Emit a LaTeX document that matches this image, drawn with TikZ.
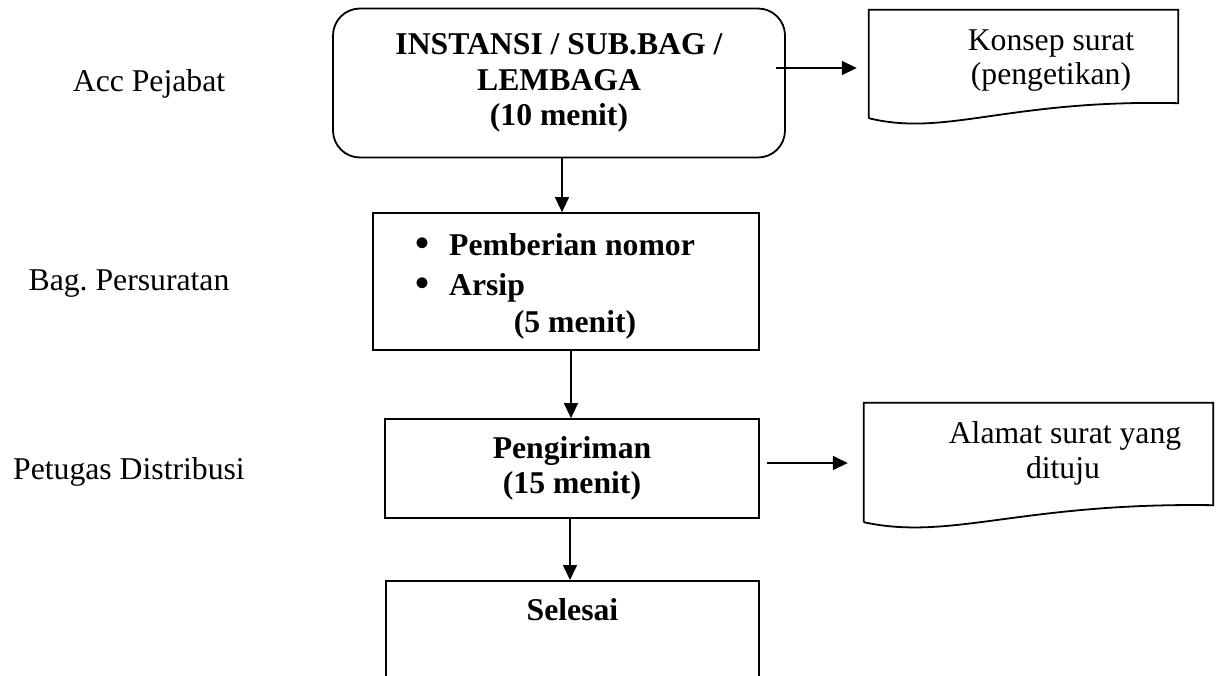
\documentclass[tikz,border=0pt]{standalone}
\usepackage{fontspec}
\setmainfont{Liberation Serif}
\usetikzlibrary{arrows.meta,calc}

\newcommand{\listdot}{\makebox[34pt][l]{\raisebox{-1pt}{\fontsize{40}{40}\selectfont\textbullet}}}

\begin{document}
\begin{tikzpicture}[x=1pt,y=-1pt,
  txt/.style={font=\fontsize{31.7}{35.5}\selectfont, inner sep=0pt},
  boldtxt/.style={txt, font=\fontsize{31.7}{35.5}\selectfont\bfseries},
  box/.style={draw, line width=1.8pt, boldtxt, align=center},
  docbox/.style={inner sep=0pt},
  docline/.style={draw, line width=1.8pt},
  arr/.style={line width=1.6pt, -{Triangle[length=15pt,width=14pt]}}
]
\useasboundingbox (0,0) rectangle (1216,675);

% lane labels
\node[txt, anchor=base] (lane1) at (149,91) {Acc Pejabat};
\node[txt, anchor=base] (lane2) at (129,290) {Bag.\ Persuratan};
\node[txt, anchor=base] (lane3) at (129,479) {Petugas Distribusi};

% process boxes
\node[box, rounded corners=27pt, minimum width=452, minimum height=149]
  (box1) at (559,83) {INSTANSI / SUB.BAG /\\ LEMBAGA\\ (10 menit)};

\node[box, minimum width=386, minimum height=137] (box2) at (566,281.5) {};
\node[boldtxt, anchor=base west] (item1) at (415,255)
  {\listdot Pemberian nomor};
\node[boldtxt, anchor=base west] (item2) at (415,295)
  {\listdot Arsip};
\node[boldtxt, anchor=base] (dur2) at (575,332) {(5 menit)};

\node[box, minimum width=374, minimum height=99] (box3) at (572,468.5)
  {Pengiriman\\ (15 menit)};

\begin{scope}
  \clip (0,0) rectangle (1216,675);
  \node[box, anchor=north, minimum width=373, text height=22pt, text depth=120pt,
        inner ysep=18pt] (box4) at (572.5,580) {Selesai};
\end{scope}

% document shapes
\node[docbox, minimum width=309, minimum height=108] (doc1) at (1023.5,64) {};
\draw[docline] (doc1.south west) -- (doc1.north west) -- (doc1.north east)
  -- ($(doc1.south east)+(0,-15)$)
  .. controls ($(doc1.south west)!0.45!(doc1.south east)+(0,-19)$)
          and ($(doc1.south west)!0.25!(doc1.south east)+(0,19)$) .. (doc1.south west);
\node[txt, anchor=base] (doc1a) at (1051,50) {Konsep surat};
\node[txt, anchor=base] (doc1b) at (1051,84) {(pengetikan)};

\node[docbox, minimum width=349, minimum height=119] (doc2) at (1038.5,462.5) {};
\draw[docline] (doc2.south west) -- (doc2.north west) -- (doc2.north east)
  -- ($(doc2.south east)+(0,-17)$)
  .. controls ($(doc2.south west)!0.45!(doc2.south east)+(0,-20)$)
          and ($(doc2.south west)!0.25!(doc2.south east)+(0,19)$) .. (doc2.south west);
\node[txt, anchor=base] (doc2a) at (1065,443) {Alamat surat yang};
\node[txt, anchor=base] (doc2b) at (1063,478) {dituju};

% connectors
\coordinate (colA) at (562,0);
\coordinate (colB) at (571,0);
\coordinate (colC) at (570,0);
\draw[arr] (box1.south -| colA) -- (box2.north -| colA);
\draw[arr] (box2.south -| colB) -- (box3.north -| colB);
\draw[arr] (box3.south -| colC) -- (box4.north -| colC);

\coordinate (h1s) at ($(box1.east)+(-10,-15)$);
\draw[arr] (h1s) -- ($(h1s -| doc1.west)+(-12,0)$);
\coordinate (h2s) at ($(box3.east)+(7,-5.5)$);
\draw[arr] (h2s) -- ($(h2s -| doc2.west)+(-16,0)$);
\end{tikzpicture}
\end{document}
